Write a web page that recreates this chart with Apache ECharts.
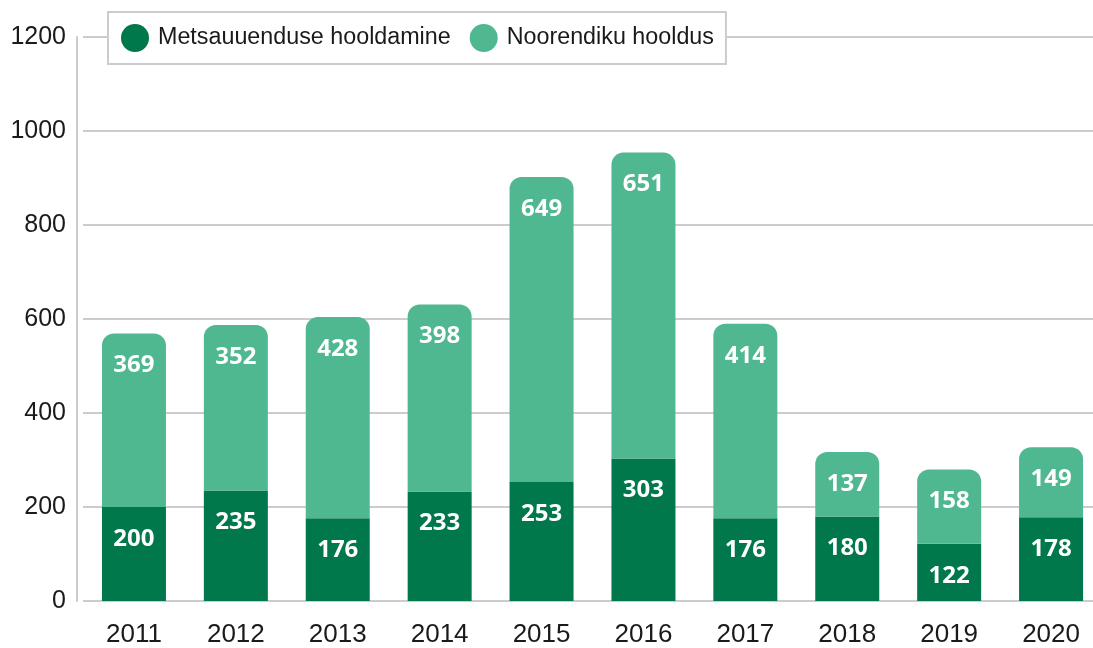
<!DOCTYPE html>
<html>
<head>
<meta charset="utf-8">
<script src="https://cdn.jsdelivr.net/npm/echarts@6/dist/echarts.min.js"></script>
<style>
  html, body { margin: 0; padding: 0; background: #fff; overflow: hidden; }
  #chart { width: 1102px; height: 648px; }
</style>
</head>
<body>
<div id="chart"></div>
<script>
const years = ['2011', '2012', '2013', '2014', '2015', '2016', '2017', '2018', '2019', '2020'];
const metsauuendus = [200, 235, 176, 233, 253, 303, 176, 180, 122, 178];
const noorendik = [369, 352, 428, 398, 649, 651, 414, 137, 158, 149];

const chart = echarts.init(document.getElementById('chart'));

const labelStyle = {
  show: true,
  position: 'insideTop',
  distance: 20,
  color: '#fff',
  fontFamily: 'Open Sans',
  fontWeight: 'bold',
  fontSize: 24
};

const option = {
  animation: false,
  backgroundColor: '#fff',
  textStyle: { fontFamily: 'Liberation Sans' },
  legend: {
    left: 108,
    top: 12,
    padding: [12, 12, 12, 13],
    itemGap: 19,
    itemWidth: 28,
    itemHeight: 28,
    icon: 'circle',
    backgroundColor: '#fff',
    borderColor: '#cccccc',
    borderWidth: 2,
    textStyle: { fontSize: 23.3, color: '#1a1a1a', fontFamily: 'Liberation Sans', padding: [0, 0, 0, 4] }
  },
  grid: { left: 83, right: 0, top: 37, bottom: 46 },
  xAxis: {
    type: 'category',
    data: years,
    axisLine: { show: false },
    axisTick: { show: false },
    axisLabel: { fontSize: 26, color: '#1a1a1a', margin: 21 }
  },
  yAxis: {
    type: 'value',
    min: 0,
    max: 1200,
    interval: 200,
    offset: 6,
    axisLine: { show: true, lineStyle: { color: '#cccccc', width: 2 } },
    axisTick: { show: false },
    splitLine: { lineStyle: { color: '#cccccc', width: 2 } },
    axisLabel: { fontSize: 25, color: '#1a1a1a', margin: 11, formatter: v => String(v) }
  },
  series: [
    {
      name: 'Metsauuenduse hooldamine',
      type: 'bar',
      stack: 'total',
      barWidth: 64,
      itemStyle: { color: '#00784b' },
      label: labelStyle,
      data: metsauuendus
    },
    {
      name: 'Noorendiku hooldus',
      type: 'bar',
      stack: 'total',
      barWidth: 64,
      itemStyle: { color: '#50b891', borderRadius: [12, 12, 0, 0] },
      label: labelStyle,
      data: noorendik
    }
  ]
};

chart.setOption(option);
</script>
</body>
</html>
